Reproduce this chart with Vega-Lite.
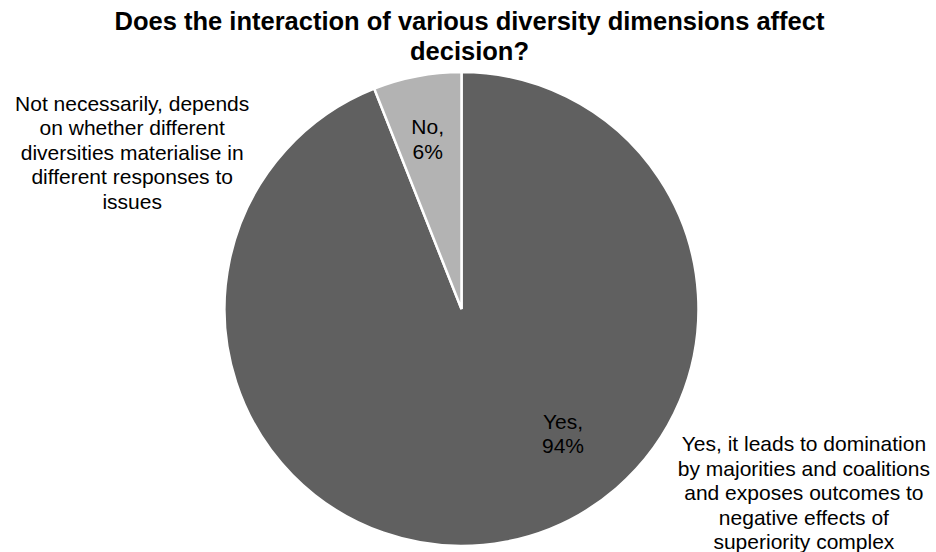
{
  "$schema": "https://vega.github.io/schema/vega-lite/v6.json",
  "width": 923,
  "height": 474,
  "autosize": {"type": "none"},
  "padding": {"left": 0, "top": 72, "right": 13, "bottom": 6},
  "background": "white",
  "title": {
    "text": ["Does the interaction of various diversity dimensions affect", "decision?"],
    "font": "Liberation Sans",
    "fontSize": 25.5,
    "fontWeight": "bold",
    "color": "#000000",
    "lineHeight": 30,
    "anchor": "middle",
    "frame": "group",
    "offset": 2,
    "dx": 8
  },
  "config": {"view": {"stroke": null}},
  "layer": [
    {
      "data": {"values": [
        {"answer": "Yes", "value": 94, "ord": 1},
        {"answer": "No", "value": 6, "ord": 2}
      ]},
      "mark": {"type": "arc", "outerRadius": 237, "stroke": "white", "strokeWidth": 2.5},
      "encoding": {
        "theta": {"field": "value", "type": "quantitative", "stack": true},
        "order": {"field": "ord", "type": "quantitative"},
        "color": {"field": "answer", "type": "nominal", "scale": {"domain": ["Yes", "No"], "range": ["#606060", "#b3b3b3"]}, "legend": null}
      }
    },
    {
      "data": {"values": [
        {"label": "No,\n6%", "angle": 349.4, "dist": 184},
        {"label": "Yes,\n94%", "angle": 138.3, "dist": 152.6},
        {"label": "Not necessarily, depends\non whether different\ndiversities materialise in\ndifferent responses to\nissues", "angle": 301.8, "dist": 387.5},
        {"label": "Yes, it leads to domination\nby majorities and coalitions\nand exposes outcomes to\nnegative effects of\nsuperiority complex", "angle": 111.7, "dist": 368.5}
      ]},
      "mark": {"type": "text", "font": "Liberation Sans", "fontSize": 21, "lineHeight": 24.5, "lineBreak": "\n", "align": "center", "baseline": "middle", "color": "#000000"},
      "encoding": {
        "theta": {"field": "angle", "type": "quantitative", "scale": {"domain": [0, 360], "range": [0, 6.283185307]}},
        "radius": {"field": "dist", "type": "quantitative", "scale": {"type": "linear", "domain": [0, 400], "range": [0, 400], "zero": true}},
        "text": {"field": "label", "type": "nominal"}
      }
    }
  ],
  "resolve": {"scale": {"theta": "independent", "radius": "independent", "color": "independent"}}
}
